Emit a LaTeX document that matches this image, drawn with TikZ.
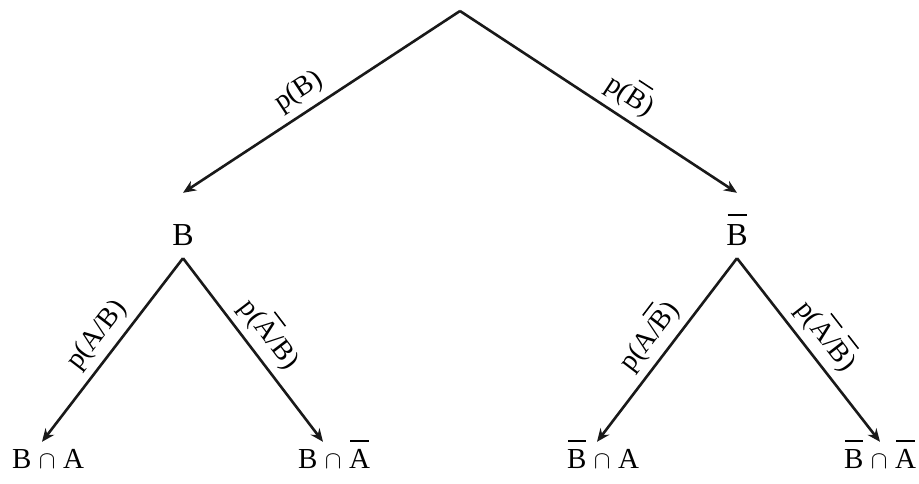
\documentclass[tikz,border=0pt]{standalone}
\usepackage{fontspec}
\setmainfont{Liberation Serif}
\usetikzlibrary{arrows.meta}
\newcommand{\ovl}[1]{\leavevmode\sbox0{#1}\rlap{\hspace{0.06\wd0}\raisebox{0.9em}{\rule{0.9\wd0}{0.055em}}}#1}
\newcommand{\capsym}{\hspace{0.26em}$\cap$\hspace{0.26em}}
\begin{document}
\begin{tikzpicture}[x=1pt,y=-1pt,
  arr/.style={line width=2.6pt, draw=black!90, -{Stealth[length=13pt,width=11pt]}},
  lab/.style={sloped, above, inner sep=7pt, font=\fontsize{28}{32}\selectfont},
  mid/.style={anchor=base, inner sep=0pt, font=\fontsize{32}{36}\selectfont, text height=52pt, text depth=13pt},
  leaf/.style={anchor=base, inner sep=0pt, font=\fontsize{29}{33}\selectfont, text height=26pt, text depth=0pt}]
\useasboundingbox (0,0) rectangle (919,483);
\coordinate (root) at (460,11);
\node[mid] (B) at (183,245) {B};
\node[mid] (Bb) at (737,245) {\ovl{B}};
\node[leaf] (L1) at (48,468) {B\capsym A};
\node[leaf] (L2) at (334,468) {B\capsym\ovl{A}};
\node[leaf] (L3) at (603,468) {\ovl{B}\capsym A};
\node[leaf] (L4) at (880,468) {\ovl{B}\capsym\ovl{A}};
\draw[arr] (root) -- (B.north) node[lab, pos=0.54] {p(B)};
\draw[arr] (root) -- (Bb.north) node[lab, pos=0.57] {p(\ovl{B})};
\draw[arr] (B.south) -- ([xshift=-6pt]L1.north) node[lab, pos=0.49] {p(A/B)};
\draw[arr] (B.south) -- ([xshift=-11pt]L2.north) node[lab, pos=0.49] {p(\ovl{A}/B)};
\draw[arr] (Bb.south) -- ([xshift=-6pt]L3.north) node[lab, pos=0.5] {p(A/\ovl{B})};
\draw[arr] (Bb.south) -- (L4.north) node[lab, pos=0.5] {p(\ovl{A}/\ovl{B})};
\end{tikzpicture}
\end{document}
